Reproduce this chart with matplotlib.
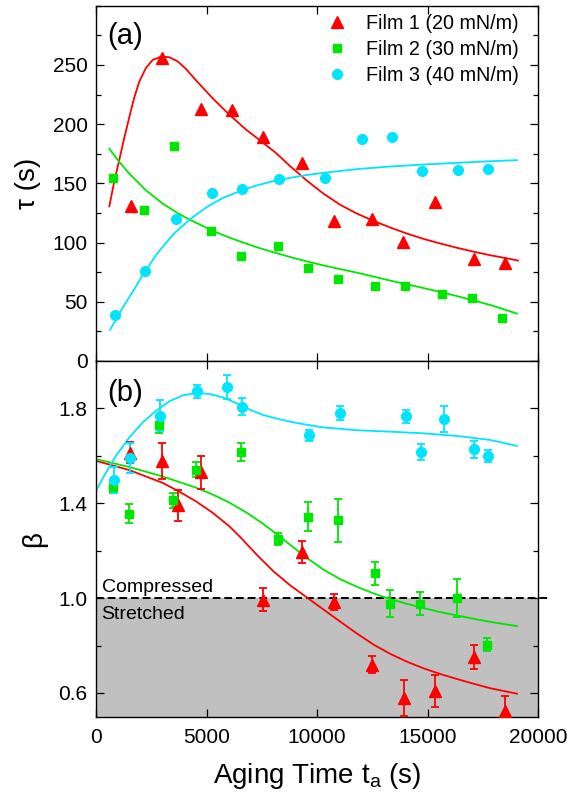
import matplotlib
matplotlib.use("Agg")
import matplotlib.pyplot as plt
from matplotlib.ticker import FixedLocator, MultipleLocator, FormatStrFormatter

plt.rcParams['font.family'] = ['Liberation Sans', 'DejaVu Sans']
plt.rcParams['mathtext.fontset'] = 'custom'
plt.rcParams['mathtext.rm'] = 'Liberation Sans'

# ---------------- relaxation time tau (s) vs aging time ----------------
film1_tau_t = [1570, 2989, 4740, 6174, 7577, 9328, 10762, 12498, 13887, 15351, 17087, 18491]
film1_tau = [130.9, 255.6, 213.0, 211.6, 188.9, 167.0, 118.0, 119.7, 100.3, 134.0, 86.0, 82.4]

film2_tau_t = [785, 2158, 3532, 5207, 6566, 8226, 9585, 10943, 12619, 13977, 15652, 17026, 18370]
film2_tau = [154.7, 127.8, 181.6, 110.1, 88.8, 96.7, 78.2, 69.5, 63.6, 63.6, 56.6, 53.0, 36.7]

film3_tau_t = [860, 2234, 3607, 5268, 6627, 8287, 10340, 12015, 13374, 14732, 16392, 17751]
film3_tau = [39.2, 76.2, 119.7, 141.8, 145.2, 153.3, 154.1, 187.8, 189.2, 160.3, 160.9, 161.7]

# fitted curves for tau
fit1_tau_t = [603, 830, 1056, 1282, 1508, 1735, 1961, 2262, 2564, 2941, 3318, 3695, 4072,
              4525, 5279, 6033, 6787, 7541, 8145, 8785, 9539, 10294, 11049, 11803, 12558,
              13313, 14068, 14822, 15577, 16332, 17086, 17841, 18596, 19094]
fit1_tau = [130.6, 152.0, 170.0, 188.5, 206.0, 222.7, 236.0, 247.5, 254.2, 257.0, 256.5,
            253.0, 246.6, 237.0, 221.8, 208.0, 195.4, 184.6, 175.6, 164.5, 152.3, 141.3,
            131.9, 124.5, 118.3, 112.7, 107.6, 103.1, 99.2, 95.6, 92.3, 89.3, 86.7, 84.8]

fit2_tau_t = [603, 1056, 1508, 2262, 3017, 3771, 4298, 5207, 5766, 6521, 7275, 8030, 8785,
              9539, 10294, 11049, 11803, 12558, 13313, 14068, 14822, 15577, 16332, 17086,
              17841, 18445, 19049]
fit2_tau = [179.2, 168.0, 158.2, 144.1, 132.9, 124.0, 118.8, 110.6, 106.2, 100.9, 96.1,
            91.8, 87.8, 84.1, 80.7, 77.6, 74.6, 71.3, 67.9, 64.7, 61.6, 58.3, 54.8, 51.1,
            47.3, 43.7, 40.0]

fit3_tau_t = [634, 1238, 1691, 2143, 2747, 3502, 4256, 5011, 5766, 6521, 7275, 8030, 8785,
              9539, 10294, 11803, 13313, 14822, 16332, 17841, 19049]
fit3_tau = [26.3, 46.0, 59.4, 73.4, 90.2, 107.1, 119.7, 130.0, 137.9, 143.5, 148.3, 151.9,
            154.7, 157.0, 158.9, 162.0, 164.2, 165.9, 167.3, 168.7, 169.6]

# ---------------- stretching exponent beta vs aging time ----------------
film1_beta_t = [1540, 2989, 4755, 3698, 7577, 9313, 10747, 12483, 13917, 15351, 17087, 18491]
film1_beta = [1.614, 1.579, 1.530, 1.392, 0.994, 1.194, 0.985, 0.720, 0.580, 0.607, 0.752, 0.523]
film1_beta_err = [0.045, 0.075, 0.070, 0.065, 0.050, 0.046, 0.033, 0.034, 0.075, 0.068, 0.050, 0.065]

film2_beta_t = [785, 1479, 2838, 3502, 4528, 6566, 8226, 9585, 10943, 12604, 13283, 14641, 16317, 17676]
film2_beta = [1.470, 1.356, 1.730, 1.413, 1.541, 1.617, 1.248, 1.344, 1.328, 1.104, 0.977, 0.977, 1.001, 0.804]
film2_beta_err = [0.028, 0.040, 0.032, 0.032, 0.032, 0.037, 0.025, 0.063, 0.090, 0.050, 0.056, 0.047, 0.080, 0.027]

film3_beta_t = [815, 1540, 2898, 4558, 5932, 6627, 9645, 11019, 14037, 14717, 15728, 17087, 17751]
film3_beta = [1.497, 1.590, 1.769, 1.873, 1.889, 1.808, 1.687, 1.782, 1.766, 1.617, 1.755, 1.628, 1.600]
film3_beta_err = [0.055, 0.064, 0.065, 0.027, 0.050, 0.034, 0.023, 0.030, 0.027, 0.034, 0.056, 0.036, 0.024]

# fitted curves for beta
fit1_beta_t = [0, 1508, 3017, 3771, 4525, 5279, 6033, 6521, 7275, 8030, 8785, 9539, 10294,
               11049, 11803, 12558, 13313, 14068, 14822, 15577, 16332, 17086, 17841, 19049]
fit1_beta = [1.579, 1.540, 1.486, 1.449, 1.408, 1.360, 1.303, 1.258, 1.183, 1.113, 1.054,
             1.003, 0.952, 0.901, 0.851, 0.804, 0.765, 0.732, 0.704, 0.680, 0.659, 0.639,
             0.620, 0.597]

fit2_beta_t = [0, 1508, 3017, 4525, 5279, 6033, 6787, 7541, 8145, 8785, 9539, 10294, 11049,
               11803, 12558, 13313, 14068, 14822, 15577, 16332, 17086, 17841, 19049]
fit2_beta = [1.586, 1.553, 1.513, 1.466, 1.437, 1.403, 1.362, 1.315, 1.272, 1.225, 1.170,
             1.120, 1.080, 1.048, 1.020, 0.996, 0.976, 0.958, 0.941, 0.927, 0.913, 0.900,
             0.882]

fit3_beta_t = [0, 452, 905, 1508, 2112, 2715, 3318, 3922, 4525, 5128, 5732, 6335, 6938,
               7541, 8145, 8785, 9539, 10294, 11803, 13313, 14822, 16332, 17841, 19049]
fit3_beta = [1.452, 1.530, 1.600, 1.678, 1.741, 1.790, 1.830, 1.855, 1.865, 1.861, 1.847,
             1.823, 1.796, 1.773, 1.758, 1.744, 1.731, 1.720, 1.708, 1.702, 1.695, 1.684,
             1.667, 1.642]

tau_ticks = [0, 50, 100, 150, 200, 250]
beta_ticks = [0.6, 1.0, 1.4, 1.8]
time_ticks = [0, 5000, 10000, 15000, 20000]

labels = ["Film 1 (20 mN/m)", "Film 2 (30 mN/m)", "Film 3 (40 mN/m)"]
colors = ["#ff0000", "#00e600", "#00e5ff"]
markers = ["^", "s", "o"]
msizes = [8.5, 6.0, 7.0]
beta_boundary = 1.0

fig = plt.figure(figsize=(5.69, 7.96), dpi=100)
W, H = 569.0, 796.0
ax1 = fig.add_axes([96 / W, 1 - 361 / H, 442 / W, 355.3 / H])
ax2 = fig.add_axes([96 / W, 1 - 716.7 / H, 442 / W, 355.7 / H])

# ---- panel (a) ----
tau_series = [(film1_tau_t, film1_tau, fit1_tau_t, fit1_tau),
              (film2_tau_t, film2_tau, fit2_tau_t, fit2_tau),
              (film3_tau_t, film3_tau, fit3_tau_t, fit3_tau)]
for (t, v, ft, fv), c, m, ms, lab in zip(tau_series, colors, markers, msizes, labels):
    ax1.plot(ft, fv, color=c, lw=1.3, zorder=2)
    ax1.plot(t, v, ls='none', marker=m, ms=ms, color=c, mec=c, label=lab, zorder=3)

ax1.set_xlim(0, 20000)
ax1.set_ylim(0, 300)
ax1.yaxis.set_major_locator(FixedLocator(tau_ticks))
ax1.yaxis.set_minor_locator(MultipleLocator(25))
ax1.xaxis.set_major_locator(FixedLocator(time_ticks))
ax1.set_ylabel("τ (s)", fontsize=20, labelpad=8)
ax1.text(0.025, 0.915, "(a)", transform=ax1.transAxes, fontsize=21,
         ha='left', va='center')
ax1.legend(loc='upper left', bbox_to_anchor=(0.522, 0.978), frameon=False,
           fontsize=14.2, handlelength=1.0, handletextpad=1.0, labelspacing=0.36,
           borderpad=0, borderaxespad=0, numpoints=1)

# ---- panel (b) ----
ax2.axhspan(0.5, beta_boundary, color='#c0c0c0', lw=0, zorder=0)
ax2.axhline(beta_boundary, xmin=0, xmax=1.025, color='black', lw=1.4,
            ls=(0, (4, 2)), clip_on=False, zorder=1)

beta_series = [(film1_beta_t, film1_beta, film1_beta_err, fit1_beta_t, fit1_beta),
               (film2_beta_t, film2_beta, film2_beta_err, fit2_beta_t, fit2_beta),
               (film3_beta_t, film3_beta, film3_beta_err, fit3_beta_t, fit3_beta)]
for (t, v, e, ft, fv), c, m, ms in zip(beta_series, colors, markers, msizes):
    ax2.plot(ft, fv, color=c, lw=1.3, zorder=2)
    ax2.errorbar(t, v, yerr=e, fmt=m, ms=ms, color=c, mec=c, ecolor=c,
                 elinewidth=1.3, capsize=3.2, capthick=1.3, zorder=3)

ax2.set_xlim(0, 20000)
ax2.set_ylim(0.5, 2.0)
ax2.yaxis.set_major_locator(FixedLocator(beta_ticks))
ax2.yaxis.set_minor_locator(FixedLocator([0.8, 1.2, 1.6]))
ax2.xaxis.set_major_locator(FixedLocator(time_ticks))
ax2.yaxis.set_major_formatter(FormatStrFormatter('%.1f'))
ax2.set_ylabel("β", fontsize=20, labelpad=8)
ax2.set_xlabel(r"Aging Time t$_\mathregular{a}$ (s)", fontsize=20, labelpad=10)
ax2.text(0.025, 0.909, "(b)", transform=ax2.transAxes, fontsize=21,
         ha='left', va='center')
ax2.text(250, 1.025, "Compressed", fontsize=14, ha='left', va='baseline', zorder=4)
ax2.text(250, 0.91, "Stretched", fontsize=14, ha='left', va='baseline', zorder=4)

for ax in (ax1, ax2):
    ax.tick_params(which='both', direction='in', top=True, right=True,
                   labelsize=15, width=0.9, pad=6)
    ax.tick_params(which='major', length=5.5)
    ax.tick_params(which='minor', length=3.5)
    for s in ax.spines.values():
        s.set_linewidth(1.0)
ax1.tick_params(labelbottom=False)
ax2.tick_params(axis='x', pad=8)

fig.savefig("out.png", dpi=100)
